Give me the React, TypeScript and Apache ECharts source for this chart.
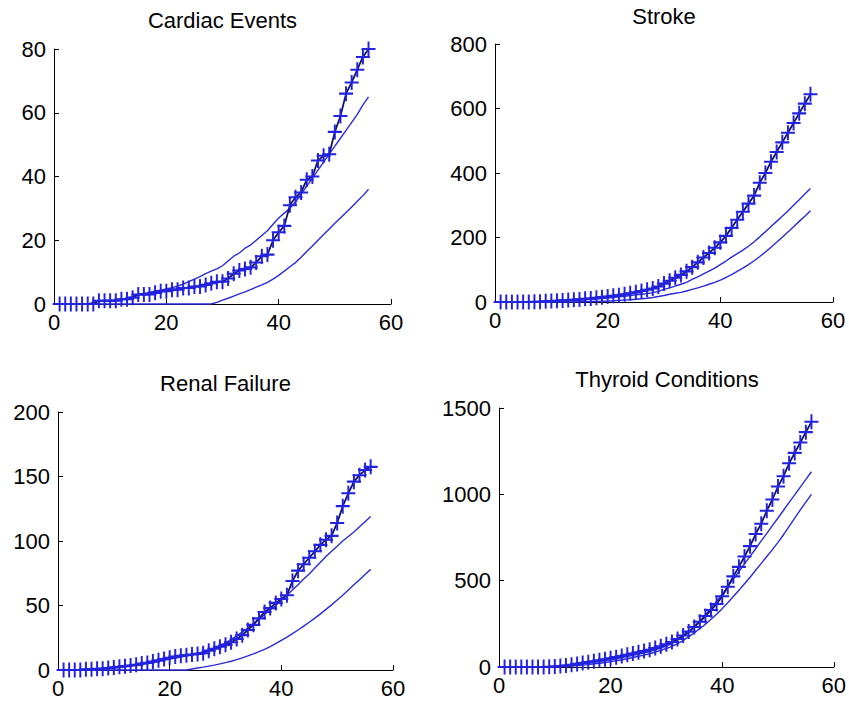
import React, { useEffect, useRef } from "react";
import * as echarts from "echarts";

// x positions (1..56)
const xs = [
  1, 2, 3, 4, 5, 6, 7, 8, 9, 10, 11, 12, 13, 14, 15, 16, 17, 18, 19, 20,
  21, 22, 23, 24, 25, 26, 27, 28, 29, 30, 31, 32, 33, 34, 35, 36, 37, 38, 39, 40,
  41, 42, 43, 44, 45, 46, 47, 48, 49, 50, 51, 52, 53, 54, 55, 56,
];

// Cardiac Events
const cardiacMain = [
  0, 0, 0, 0, 0, 0, 0, 1, 1, 1, 1, 1.5, 1.5, 2, 3, 3, 3, 3.5, 4, 4,
  4.5, 4.5, 5, 5, 5.5, 5.5, 6, 6.5, 7, 7, 8, 9.5, 10.5, 11, 11.5, 13, 15, 15.5, 20, 22.5,
  24.5, 31, 33.5, 35, 39, 40, 45, 46.5, 47, 54, 59, 66, 69.5, 73.5, 77.5, 80,
];
const cardiacUpper = [
  0, 0, 0, 0, 0, 0, 0.5, 1, 1.1, 1.2, 1.3, 1.6, 1.8, 2.3, 3.1, 3.3, 3.6, 4, 4.3, 4.7,
  5.1, 5.6, 6.2, 7, 7.8, 8.6, 9.5, 10.3, 11, 12, 13.5, 15, 16, 17.5, 18.5, 20, 21.5, 23, 25, 27,
  28.5, 30, 32, 34.5, 37, 39.5, 42, 44.5, 47, 49.5, 52, 54.5, 57, 59.5, 62.5, 65,
];
const cardiacLower = [
  0, 0, 0, 0, 0, 0, 0, 0, 0, 0, 0, 0, 0, 0, 0, 0, 0, 0, 0, 0,
  0, 0, 0, 0, 0, 0, 0, 0, 0.5, 1.2, 1.8, 2.5, 3.2, 3.8, 4.5, 5.3, 6, 6.8, 7.8, 9,
  10.3, 11.7, 13, 14.7, 16.5, 18.2, 20, 21.8, 23.5, 25.3, 27, 28.7, 30.4, 32.2, 34, 36,
];

// Stroke
const strokeMain = [
  0, 0, 0, 0, 0, 0, 0.5, 1, 2, 3, 4, 5, 6, 7, 8, 10, 11, 13, 15, 17,
  19, 21, 24, 27, 30, 34, 38, 42, 48, 57, 66, 75, 84, 95, 108, 123, 138, 152, 168, 185,
  205, 230, 255, 280, 305, 330, 370, 400, 435, 465, 495, 525, 555, 585, 615, 644,
];
const strokeUpper = [
  0, 0, 0, 0, 0, 0, 0.3, 0.6, 1, 1.5, 2, 2.7, 3.5, 4.5, 5.5, 6.7, 8, 9.3, 10.7, 12,
  14, 16, 18, 20, 22, 24, 26, 29, 33, 39, 44, 49, 55, 61, 70, 78, 87, 96, 105, 116,
  127, 139, 150, 161, 173, 187, 202, 218, 234, 250, 266, 282, 300, 317, 335, 352,
];
const strokeLower = [
  0, 0, 0, 0, 0, 0, 0, 0, 0, 0, 0.1, 0.2, 0.3, 0.5, 0.8, 1.1, 1.5, 2, 2.5, 3.2,
  4, 5, 6, 7.2, 8.5, 10, 11.5, 14, 17, 20, 24, 27, 30, 34, 39, 44, 49, 55, 61, 68,
  76, 85, 95, 105, 116, 128, 141, 155, 170, 185, 201, 217, 233, 250, 266, 283,
];

// Renal Failure
const renalMain = [
  0, 0, 0, 0, 0.5, 0.5, 1, 1, 1.5, 2, 2.5, 3, 3.5, 4, 5, 5.5, 6.5, 7.5, 8.5, 9.5,
  10.5, 11, 11.5, 12, 12.5, 13, 15, 16.5, 18, 19.5, 21.5, 24, 27, 31, 35, 40, 45, 48, 52, 55,
  58, 69, 77, 82, 87, 92, 97, 101, 104, 114, 127, 137, 146, 151, 155, 157.5,
];
const renalUpper = [
  0, 0, 0, 0, 0, 0.3, 0.5, 0.8, 1.1, 1.5, 2, 2.6, 3.2, 3.8, 4.5, 5.2, 6, 6.8, 7.6, 8.4,
  9.2, 10, 11, 12, 13, 14, 15.5, 17, 19, 21, 23.5, 26.5, 29.5, 32.5, 36, 39.5, 43, 46.5, 50, 54,
  58, 62, 66, 70.5, 74.5, 79, 83.5, 88, 92, 96, 100, 103.5, 107, 111, 115, 119,
];
const renalLower = [
  0, 0, 0, 0, 0, 0, 0, 0, 0, 0, 0, 0, 0, 0, 0, 0, 0, 0, 0, 0,
  0, 0, 0, 0.8, 1.5, 2.2, 3, 3.8, 4.7, 5.7, 6.8, 8, 9.4, 10.9, 12.5, 14.2, 16, 18.2, 20.5, 23,
  25.5, 28.2, 31, 34, 37, 40.2, 43.5, 47, 50.5, 54.2, 58, 62, 66, 70, 74, 78,
];

// Thyroid Conditions
const thyroidMain = [
  0, 0, 0, 0, 0, 0, 0, 0, 1, 3, 6, 9, 13, 18, 23, 28, 33, 39, 45, 51,
  57, 64, 71, 78, 85, 92, 100, 110, 120, 132, 145, 162, 182, 205, 232, 262, 295, 330, 365, 410,
  465, 525, 580, 640, 700, 770, 830, 905, 970, 1045, 1105, 1180, 1240, 1300, 1360, 1420,
];
const thyroidUpper = [
  0, 0, 0, 0, 0, 0, 0, 0.3, 1, 2.5, 4.5, 7, 10, 14, 18, 22, 27, 32, 37, 42,
  48, 54, 60, 67, 74, 82, 90, 99, 110, 122, 137, 155, 177, 203, 233, 266, 302, 340, 380, 421,
  465, 509, 553, 597, 641, 685, 730, 774, 819, 863, 908, 953, 997, 1042, 1087, 1131,
];
const thyroidLower = [
  0, 0, 0, 0, 0, 0, 0, 0, 0.5, 1.5, 2.5, 4, 6, 8, 11, 14, 18, 22, 26, 31,
  36, 42, 48, 55, 62, 69, 77, 86, 96, 107, 120, 136, 153, 175, 198, 222, 248, 276, 306, 338,
  372, 408, 444, 482, 520, 560, 600, 640, 680, 722, 766, 815, 862, 910, 955, 1000,
];

// tick settings
const cardiacTicks = { max: 80, step: 20 };
const strokeTicks = { max: 800, step: 200 };
const renalTicks = { max: 200, step: 50 };
const thyroidTicks = { max: 1500, step: 500 };
const xTicks = { max: 60, step: 20 };

const panels = [
  { title: "Cardiac Events", main: cardiacMain, upper: cardiacUpper, lower: cardiacLower, ticks: cardiacTicks },
  { title: "Stroke", main: strokeMain, upper: strokeUpper, lower: strokeLower, ticks: strokeTicks },
  { title: "Renal Failure", main: renalMain, upper: renalUpper, lower: renalLower, ticks: renalTicks },
  { title: "Thyroid Conditions", main: thyroidMain, upper: thyroidUpper, lower: thyroidLower, ticks: thyroidTicks },
];

// layout (pixels)
const layout = [
  { left: 54, top: 49, width: 337, height: 255, titleTop: 8 },
  { left: 495, top: 44, width: 338, height: 258, titleTop: 4 },
  { left: 58, top: 412, width: 335, height: 258, titleTop: 371 },
  { left: 499, top: 408, width: 336, height: 259, titleTop: 367 },
];

const PLUS = "path://M4.3,0H5.7V4.3H10V5.7H5.7V10H4.3V5.7H0V4.3H4.3Z";
const FONT = "'Liberation Sans', Arial, Helvetica, sans-serif";

export default function App() {
  const ref = useRef<HTMLDivElement>(null);
  useEffect(() => {
    if (!ref.current) return;
    const chart = echarts.init(ref.current, null, { renderer: "svg" });
    const pair = (ys: number[]) => xs.map((x, i) => [x, ys[i]]);
    const fmt = (v: number) => String(v);
    const option: any = {
      animation: false,
      backgroundColor: "#ffffff",
      title: panels.map((p, i) => ({
        text: p.title,
        left: layout[i].left + layout[i].width / 2,
        top: layout[i].titleTop,
        textAlign: "center",
        padding: 0,
        textStyle: { fontFamily: FONT, fontSize: 22, fontWeight: "normal", color: "#000", lineHeight: 24 },
      })),
      grid: layout.map((l) => ({ left: l.left, top: l.top, width: l.width, height: l.height, containLabel: false })),
      xAxis: panels.map((_, i) => ({
        type: "value",
        gridIndex: i,
        min: 0,
        max: xTicks.max,
        interval: xTicks.step,
        axisLine: { show: true, onZero: false, lineStyle: { color: "#000", width: 1 } },
        axisTick: { show: true, inside: true, length: 5, lineStyle: { color: "#000" } },
        axisLabel: { fontFamily: FONT, fontSize: 22, color: "#000", margin: 7, formatter: fmt },
        splitLine: { show: false },
      })),
      yAxis: panels.map((p, i) => ({
        type: "value",
        gridIndex: i,
        min: 0,
        max: p.ticks.max,
        interval: p.ticks.step,
        axisLine: { show: true, onZero: false, lineStyle: { color: "#000", width: 1 } },
        axisTick: { show: true, inside: true, length: 5, lineStyle: { color: "#000" } },
        axisLabel: { fontFamily: FONT, fontSize: 22, color: "#000", margin: 8, formatter: fmt },
        splitLine: { show: false },
      })),
      series: panels.flatMap((p, i) => [
        {
          type: "line",
          xAxisIndex: i,
          yAxisIndex: i,
          data: pair(p.upper),
          showSymbol: false,
          symbol: "none",
          clip: false,
          lineStyle: { color: "#2a2ad6", width: 1.4 },
          z: 2,
        },
        {
          type: "line",
          xAxisIndex: i,
          yAxisIndex: i,
          data: pair(p.lower),
          showSymbol: false,
          symbol: "none",
          clip: false,
          lineStyle: { color: "#2a2ad6", width: 1.4 },
          z: 2,
        },
        {
          type: "line",
          xAxisIndex: i,
          yAxisIndex: i,
          data: pair(p.main),
          symbol: PLUS,
          symbolSize: [14, 15],
          showAllSymbol: true,
          clip: false,
          lineStyle: { color: "#14145e", width: 1.8 },
          itemStyle: { color: "#2222e0" },
          z: 3,
        },
      ]),
    };
    chart.setOption(option);
    return () => chart.dispose();
  }, []);
  return (
    <div
      ref={ref}
      style={{ position: "absolute", left: 0, top: 0, width: 849, height: 702, background: "#fff" }}
    />
  );
}
